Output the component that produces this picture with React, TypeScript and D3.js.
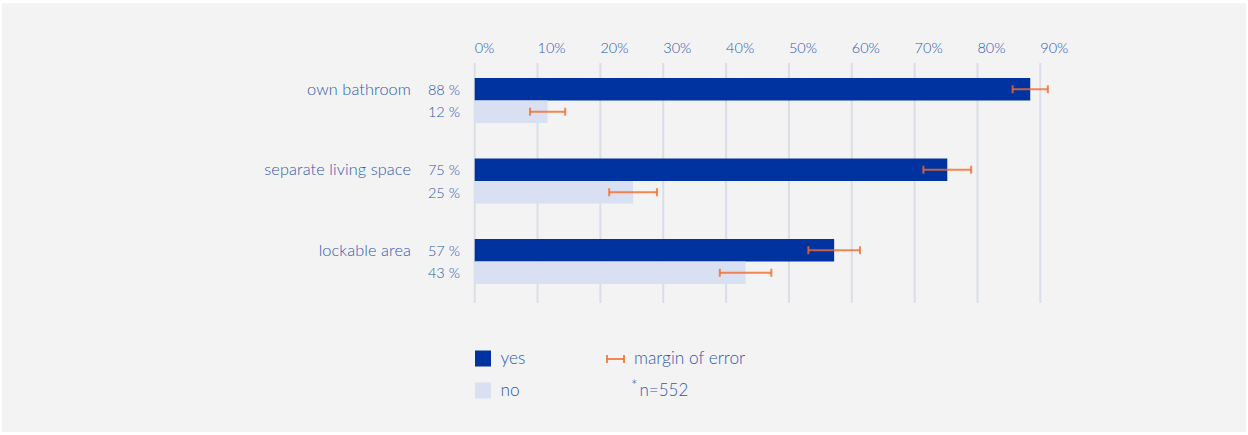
import React from 'react';
import * as d3 from 'd3';

// data
const categories = ['own bathroom', 'separate living space', 'lockable area'];
const yesValues = [88.4, 75.2, 57.2];
const noValues = [11.6, 25.2, 43.1];
const errorMargins = [2.8, 3.8, 4.1];
const tickValues = [0, 10, 20, 30, 40, 50, 60, 70, 80, 90];
const answers = ['yes', 'no'];
const sampleNote = 'n=552';

const W = 1248;
const H = 435;
const textColor = '#3058b0';
const yesColor = '#0033a0';
const noColor = '#d9e0f2';
const errColor = '#f46a2c';
const gridColor = '#d9dfe4';
const font = 'Lato, "Open Sans", sans-serif';

const App: React.FC = () => {
    const x = d3.scaleLinear().domain([0, 90]).range([474.7, 1040.3]);

    const y = d3.scaleBand<string>()
        .domain(categories)
        .range([78, 284])
        .paddingInner(0.441)
        .paddingOuter(0);

    const ySub = d3.scaleBand<string>()
        .domain(answers)
        .range([0, y.bandwidth()]);

    const rows = categories.map((c, i) => ({
        cat: c,
        values: [yesValues[i], noValues[i]],
        err: errorMargins[i],
    }));

    return (
        <svg width={W} height={H} style={{ position: 'absolute', left: 0, top: 0 }} fontFamily={font}>
            <rect x={0} y={0} width={W} height={H} fill="#ffffff" />
            <rect x={2} y={3} width={W - 4} height={H - 6} fill="#f3f3f3" />

            {/* grid + top axis labels */}
            {tickValues.map(t => (
                <g key={t}>
                    <line x1={x(t)} x2={x(t)} y1={63} y2={303} stroke={gridColor} strokeWidth={2} />
                    <text x={x(t)} y={53} fill={textColor} fontSize={14.5} fontWeight={300}>{`${t}%`}</text>
                </g>
            ))}

            {rows.map(r => {
                const y0 = y(r.cat) || 0;
                return (
                    <g key={r.cat}>
                        <text x={411} y={y0 + ySub.bandwidth() / 2 + 5.5} textAnchor="end" fill={textColor}
                            fontSize={16.3} fontWeight={300} letterSpacing={0.1}>{r.cat}</text>
                        {answers.map((a, j) => {
                            const v = r.values[j];
                            const yy = y0 + (ySub(a) || 0);
                            const cy = yy + ySub.bandwidth() / 2;
                            return (
                                <g key={a}>
                                    <rect x={x(0)} y={yy} width={x(v) - x(0)} height={ySub.bandwidth()}
                                        fill={j === 0 ? yesColor : noColor} />
                                    <text x={460} y={cy + 5.5} textAnchor="end" fill={textColor}
                                        fontSize={14.5} fontWeight={300}>{`${Math.round(v)} %`}</text>
                                    <g stroke={errColor} strokeOpacity={0.8} strokeWidth={2}>
                                        <line x1={x(v - r.err)} x2={x(v + r.err)} y1={cy} y2={cy} />
                                        <line x1={x(v - r.err)} x2={x(v - r.err)} y1={cy - 4} y2={cy + 4} />
                                        <line x1={x(v + r.err)} x2={x(v + r.err)} y1={cy - 4} y2={cy + 4} />
                                    </g>
                                </g>
                            );
                        })}
                    </g>
                );
            })}

            {/* legend */}
            <rect x={475} y={350.5} width={16} height={16} fill={yesColor} />
            <text x={500.5} y={363.5} fill={textColor} fontSize={17.3} fontWeight={300}>yes</text>
            <rect x={475} y={382.5} width={16} height={16} fill={noColor} />
            <text x={500.5} y={395.5} fill={textColor} fontSize={17.3} fontWeight={300}>no</text>

            <g stroke={errColor} strokeOpacity={0.8} strokeWidth={2}>
                <line x1={607} x2={624} y1={359} y2={359} />
                <line x1={607} x2={607} y1={355} y2={363} />
                <line x1={624} x2={624} y1={355} y2={363} />
            </g>
            <text x={634} y={363.5} fill={textColor} fontSize={17.3} fontWeight={300}>margin of error</text>
            <text x={631} y={391} fill={textColor} fontSize={15} fontWeight={300}>*</text>
            <text x={639.5} y={395.5} fill={textColor} fontSize={17} fontWeight={300}>{sampleNote}</text>
        </svg>
    );
};

export default App;
